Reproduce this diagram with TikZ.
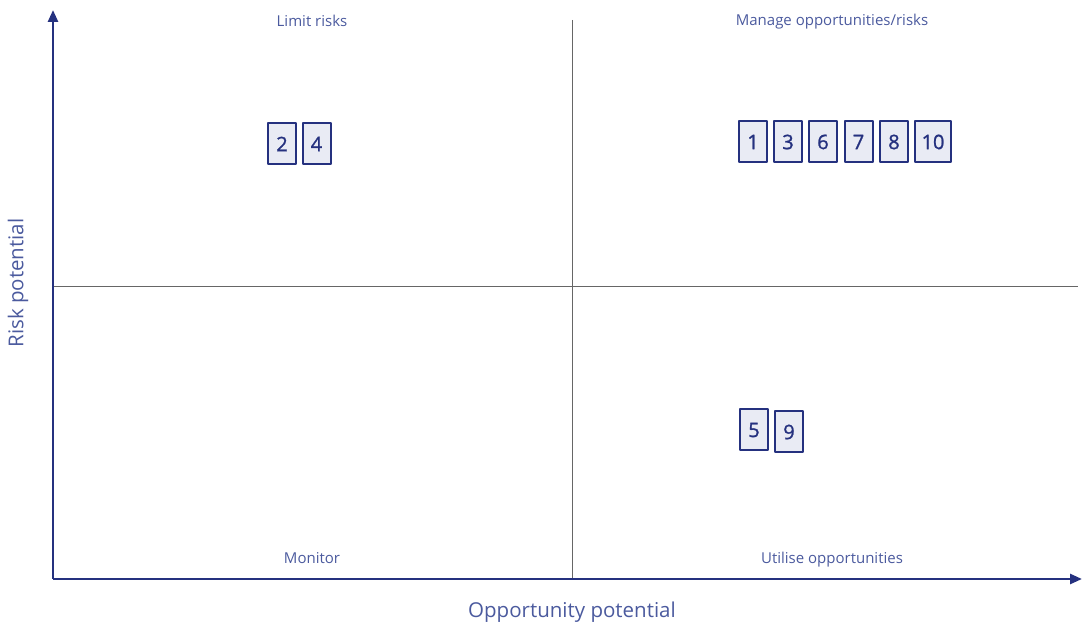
\documentclass[tikz,border=0pt]{standalone}
\usepackage{fontspec}
\setmainfont{Open Sans}
\newfontfamily\digitfont[FakeBold=1.2]{Open Sans}
\usetikzlibrary{arrows.meta}
\definecolor{navy}{HTML}{25317F}
\definecolor{labelblue}{HTML}{4B5A9E}
\definecolor{boxfill}{HTML}{E9EBF4}
\tikzset{
	riskbox/.style={draw=navy, fill=boxfill, line width=2pt, text=navy, minimum width=28, minimum height=41, inner sep=2pt, font=\digitfont\fontsize{20}{20}\selectfont},
	quadlabel/.style={text=labelblue, font=\fontsize{15}{15}\selectfont},
	axislabel/.style={text=labelblue, font=\fontsize{20.5}{20.5}\selectfont}
}
\begin{document}
\begin{tikzpicture}[x=1pt,y=1pt,line join=round,>={Triangle[length=12pt,width=10pt]}]
	\useasboundingbox (0,0) rectangle (1082,624);
	% Achsen
	\coordinate (o) at (53,45);
	\coordinate (ytop) at (53,614);
	\coordinate (xend) at (1082,45);
	% Quadranten-Linien
	\coordinate (vtop) at (572,604);
	\coordinate (vbot) at (572,45);
	\coordinate (hl) at (53,338);
	\coordinate (hr) at (1078,338);
	\draw [gray!80!black, line width=0.8pt] (vtop) -- (vbot);
	\draw [gray!80!black, line width=0.8pt] (hl) -- (hr);
	\draw [navy, line width=2.6pt, ->] (o) -- (ytop);
	\draw [navy, line width=2.6pt, ->] (o) -- (xend);
	% Beschriftung
	\node [quadlabel] (limit) at (312,603) {Limit risks};
	\node [quadlabel] (manage) at (832,602) {Manage opportunities/risks};
	\node [quadlabel] (monitor) at (312,66) {Monitor};
	\node [quadlabel] (utilise) at (832,64) {Utilise opportunities};
	\node [axislabel, rotate=90] (ylab) at (18,341) {Risk potential};
	\node [axislabel] (xlab) at (572,12) {Opportunity potential};
	% Risiken
	\node [riskbox] (r2) at (282,480) {2};
	\node [riskbox] (r4) at (316.5,480) {4};
	\node [riskbox] (r1) at (753,482) {1};
	\node [riskbox] (r3) at (788,482) {3};
	\node [riskbox] (r6) at (823,482) {6};
	\node [riskbox] (r7) at (858.5,482) {7};
	\node [riskbox] (r8) at (894,482) {8};
	\node [riskbox, minimum width=36] (r10) at (933,482) {10};
	\node [riskbox] (r5) at (754,194) {5};
	\node [riskbox] (r9) at (789,192) {9};
\end{tikzpicture}
\end{document}
